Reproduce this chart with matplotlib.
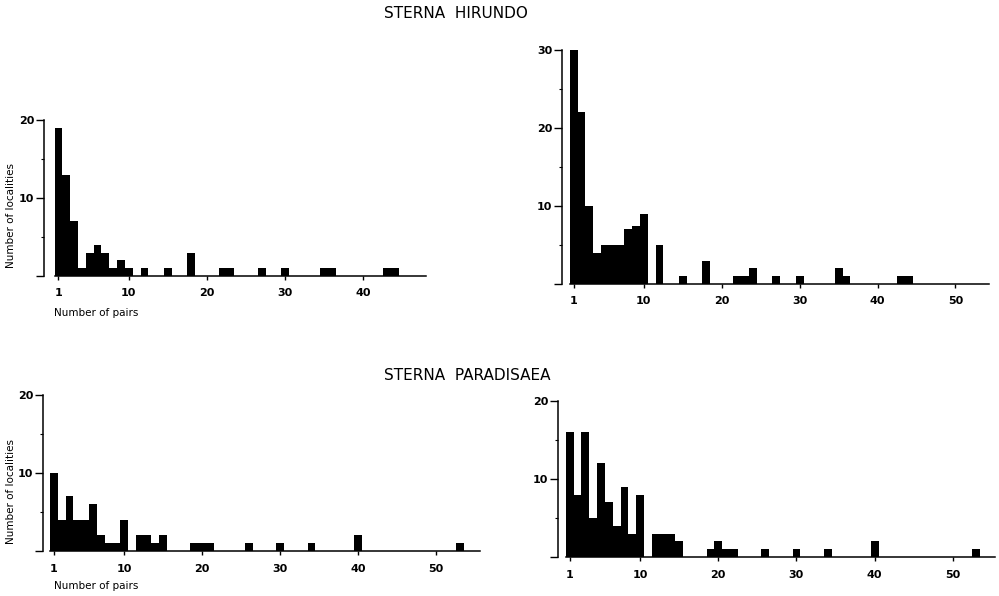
import matplotlib
matplotlib.use("Agg")
import matplotlib.pyplot as plt

plt.rcParams['font.family'] = ['DejaVu Sans']

# Sterna hirundo, left panel
hir_a_pairs = [1, 2, 3, 4, 5, 6, 7, 8, 9, 10, 12, 15, 18, 22, 23, 27, 30, 35, 36, 43, 44]
hir_a_count = [19, 13, 7, 1, 3, 4, 3, 1, 2, 1, 1, 1, 3, 1, 1, 1, 1, 1, 1, 1, 1]

# Sterna hirundo, right panel
hir_b_pairs = [1, 2, 3, 4, 5, 6, 7, 8, 9, 10, 12, 15, 18, 22, 23, 24, 27, 30, 35, 36, 43, 44]
hir_b_count = [30, 22, 10, 4, 5, 5, 5, 7, 7.5, 9, 5, 1, 3, 1, 1, 2, 1, 1, 2, 1, 1, 1]

# Sterna paradisaea, left panel
par_a_pairs = [1, 2, 3, 4, 5, 6, 7, 8, 9, 10, 12, 13, 14, 15, 19, 20, 21, 26, 30, 34, 40, 53]
par_a_count = [10, 4, 7, 4, 4, 6, 2, 1, 1, 4, 2, 2, 1, 2, 1, 1, 1, 1, 1, 1, 2, 1]

# Sterna paradisaea, right panel
par_b_pairs = [1, 2, 3, 4, 5, 6, 7, 8, 9, 10, 12, 13, 14, 15, 19, 20, 21, 22, 26, 30, 34, 40, 53]
par_b_count = [16, 8, 16, 5, 12, 7, 4, 9, 3, 8, 3, 3, 3, 2, 1, 2, 1, 1, 1, 1, 1, 2, 1]

W, H = 999, 596
fig = plt.figure(figsize=(W / 100, H / 100), dpi=100)


def panel(px_left, px_right, px_bottom, px_top, xlo, xhi, ytop,
          pairs, counts, xticks):
    ax = fig.add_axes([px_left / W, (H - px_bottom) / H,
                       (px_right - px_left) / W, (px_bottom - px_top) / H])
    ax.bar(pairs, counts, width=1.0, color='black', linewidth=0)
    ax.set_xlim(xlo, xhi)
    ax.set_ylim(0, ytop)
    for s in ('top', 'right'):
        ax.spines[s].set_visible(False)
    ax.spines['left'].set_bounds(0, ytop)
    ax.spines['bottom'].set_bounds(0.5, xhi)
    for s in ('left', 'bottom'):
        ax.spines[s].set_linewidth(1.1)

    yt = list(range(0, ytop + 1, 10))
    ax.set_yticks(yt)
    ax.set_yticklabels([''] + [str(v) for v in yt[1:]], fontsize=8,
                       fontweight='bold')
    ax.set_yticks(list(range(5, ytop, 10)), minor=True)
    ax.tick_params(axis='y', which='major', direction='out', length=6,
                   width=1, pad=1)
    ax.tick_params(axis='y', which='minor', direction='out', length=2.5,
                   width=0.8)

    ax.set_xticks(xticks)
    ax.set_xticklabels([str(v) for v in xticks], fontsize=8,
                       fontweight='bold')
    ax.tick_params(axis='x', direction='out', length=3, width=1, pad=6)
    return ax


a1 = panel(44, 426, 276, 120, -0.85, 48.0, 20, hir_a_pairs, hir_a_count,
           [1, 10, 20, 30, 40])
a2 = panel(562, 989, 284, 50, -0.5, 54.3, 30, hir_b_pairs, hir_b_count,
           [1, 10, 20, 30, 40, 50])
a3 = panel(43, 480, 551, 395, -0.4, 55.6, 20, par_a_pairs, par_a_count,
           [1, 10, 20, 30, 40, 50])
a4 = panel(558, 995, 557, 401, -0.5, 55.4, 20, par_b_pairs, par_b_count,
           [1, 10, 20, 30, 40, 50])

# axis titles, placed as in the original scan
for yc in (216, 491):
    fig.text(11 / W, 1 - yc / H, 'Number of localities', fontsize=7.5,
             rotation=90, ha='center', va='center')
for yc in (313, 586):
    fig.text(54 / W, 1 - yc / H, 'Number of pairs', fontsize=7.5,
             ha='left', va='center')

fig.text(384 / W, 1 - 14 / H, 'STERNA  HIRUNDO', fontsize=11,
         ha='left', va='center')
fig.text(384 / W, 1 - 375 / H, 'STERNA  PARADISAEA', fontsize=11,
         ha='left', va='center')

fig.savefig('out.png', dpi=100)
